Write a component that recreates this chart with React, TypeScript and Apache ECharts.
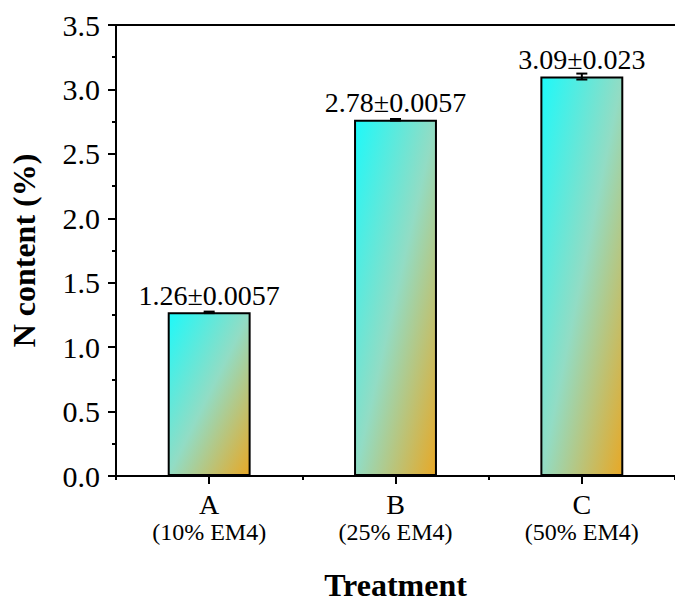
import React, { useEffect, useRef } from "react";
import * as echarts from "echarts";

const treatments = ["A", "B", "C"];
const doses = ["(10% EM4)", "(25% EM4)", "(50% EM4)"];
const barMeans = [1.27, 2.765, 3.1];
const meanLabels = ["1.26", "2.78", "3.09"];
const sdValues = [0.0057, 0.0057, 0.023];
const sdLabels = ["0.0057", "0.0057", "0.023"];
const yTicks = { min: 0, max: 3.5, interval: 0.5 };

const FONT = "'Liberation Serif', 'Times New Roman', serif";

export default function App() {
  const ref = useRef<HTMLDivElement>(null);
  useEffect(() => {
    document.body.style.margin = "0";
    const chart = echarts.init(ref.current!, null, { renderer: "svg" });
    const gradient = new echarts.graphic.LinearGradient(0, 0, 1, 1, [
      { offset: 0, color: "#1ef9f9" },
      { offset: 0.5, color: "#92dcc4" },
      { offset: 1, color: "#e8a826" },
    ]);
    const option: any = {
      animation: false,
      textStyle: { fontFamily: FONT, color: "#000" },
      grid: { left: 111, top: 25, width: 573, height: 460 },
      xAxis: [
        {
          type: "category",
          data: treatments,
          position: "bottom",
          boundaryGap: true,
          axisLine: { show: true, lineStyle: { color: "#000", width: 2 } },
          axisTick: { show: true, alignWithLabel: true, length: 8, lineStyle: { color: "#000", width: 2 } },
          axisLabel: {
            margin: 14,
            formatter: (v: string, i: number) => `{a|${v}}\n{b|${doses[i]}}`,
            rich: {
              a: { fontSize: 28, lineHeight: 29, fontFamily: FONT, color: "#000" },
              b: { fontSize: 24, lineHeight: 26, fontFamily: FONT, color: "#000" },
            },
          },
          name: "Treatment",
          nameLocation: "middle",
          nameGap: 93,
          nameTextStyle: { fontSize: 32, fontWeight: "bold", fontFamily: FONT, color: "#000" },
        },
        {
          type: "category",
          data: treatments,
          position: "bottom",
          boundaryGap: true,
          axisLine: { show: false },
          axisTick: { show: true, alignWithLabel: false, length: 4, lineStyle: { color: "#000", width: 2 } },
          axisLabel: { show: false },
        },
        {
          type: "category",
          data: treatments,
          position: "top",
          axisLine: { show: true, lineStyle: { color: "#000", width: 2 } },
          axisTick: { show: false },
          axisLabel: { show: false },
        },
      ],
      yAxis: {
        type: "value",
        min: yTicks.min,
        max: yTicks.max,
        interval: yTicks.interval,
        axisLine: { show: true, lineStyle: { color: "#000", width: 2 } },
        axisTick: { show: true, inside: false, length: 8, lineStyle: { color: "#000", width: 2 } },
        minorTick: { show: true, splitNumber: 2, length: 4, lineStyle: { color: "#000", width: 2 } },
        splitLine: { show: false },
        axisLabel: {
          fontSize: 30,
          margin: 16,
          color: "#000",
          fontFamily: FONT,
          formatter: (v: number) => v.toFixed(1),
        },
        name: "N content (%)",
        nameLocation: "middle",
        nameGap: 76,
        nameTextStyle: { fontSize: 32, fontWeight: "bold", fontFamily: FONT, color: "#000" },
      },
      series: [
        {
          type: "bar",
          xAxisIndex: 0,
          data: barMeans,
          barWidth: "44.5%",
          itemStyle: { color: gradient, borderColor: "#000", borderWidth: 2 },
          label: {
            show: true,
            position: "top",
            distance: 3,
            fontSize: 28,
            fontFamily: FONT,
            color: "#000",
            formatter: (p: any) => `${meanLabels[p.dataIndex]}±${sdLabels[p.dataIndex]}`,
          },
          z: 2,
        },
        {
          type: "custom",
          xAxisIndex: 0,
          data: barMeans.map((m, i) => [i, m, sdValues[i]]),
          encode: { x: 0, y: 1 },
          z: 3,
          renderItem: (params: any, api: any) => {
            const x = api.value(0);
            const m = api.value(1);
            const sd = api.value(2);
            const hi = api.coord([x, m + sd]);
            const lo = api.coord([x, m - sd]);
            const hw = 5.5;
            const style = { stroke: "#000", lineWidth: 2 };
            return {
              type: "group",
              children: [
                { type: "line", shape: { x1: hi[0], y1: hi[1], x2: lo[0], y2: lo[1] }, style },
                { type: "line", shape: { x1: hi[0] - hw, y1: hi[1], x2: hi[0] + hw, y2: hi[1] }, style },
                { type: "line", shape: { x1: lo[0] - hw, y1: lo[1], x2: lo[0] + hw, y2: lo[1] }, style },
              ],
            };
          },
        },
      ],
    };
    chart.setOption(option);
    return () => chart.dispose();
  }, []);
  return <div ref={ref} style={{ width: 675, height: 606 }} />;
}
